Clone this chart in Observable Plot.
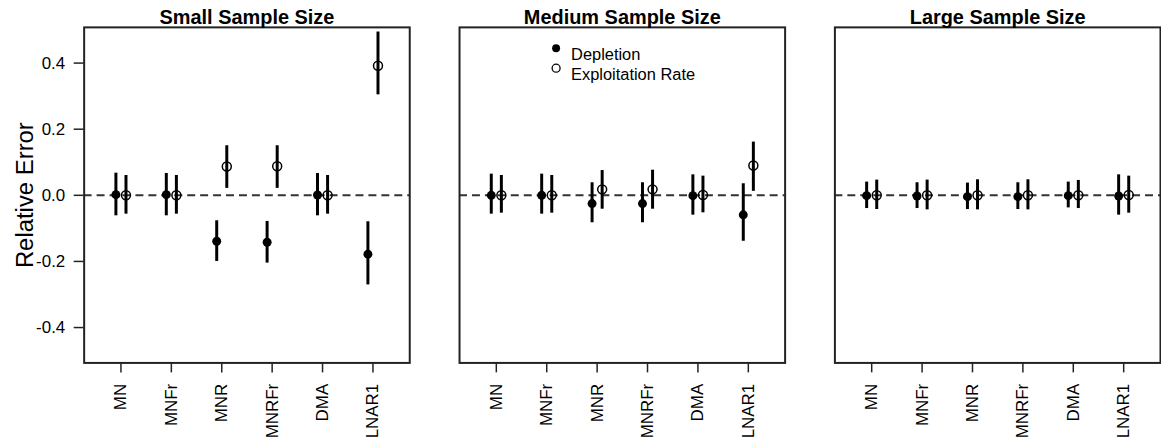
<!DOCTYPE html>
<html>
<head>
<meta charset="utf-8">
<script src="https://cdn.jsdelivr.net/npm/d3@7"></script>
<script src="https://cdn.jsdelivr.net/npm/@observablehq/plot@0.6"></script>
<style>
  html, body { margin: 0; padding: 0; background: #fff; }
  #chart { width: 1161px; height: 441px; overflow: hidden; }
</style>
</head>
<body>
<div id="chart"></div>
<script>
// Estimation methods (x categories) and the three sample-size panels
const methods = ["MN", "MNFr", "MNR", "MNRFr", "DMA", "LNAR1"];
const panels = ["Small Sample Size", "Medium Sample Size", "Large Sample Size"];
const seriesNames = ["Depletion", "Exploitation Rate"];
const yTicks = [-0.4, -0.2, 0.0, 0.2, 0.4];

// Relative error per method: [median, lower, upper]
const smallDepletion = [
  [0.002, -0.062, 0.067], [0.002, -0.062, 0.066], [-0.139, -0.200, -0.077],
  [-0.142, -0.205, -0.079], [0.001, -0.062, 0.066], [-0.178, -0.271, -0.080]
];
const smallExploitation = [
  [0.000, -0.057, 0.060], [0.000, -0.057, 0.060], [0.087, 0.021, 0.150],
  [0.088, 0.021, 0.150], [0.000, -0.057, 0.060], [0.392, 0.304, 0.494]
];
const mediumDepletion = [
  [0.000, -0.057, 0.064], [0.000, -0.057, 0.064], [-0.025, -0.083, 0.038],
  [-0.025, -0.083, 0.038], [-0.001, -0.060, 0.062], [-0.059, -0.139, 0.035]
];
const mediumExploitation = [
  [0.000, -0.054, 0.060], [0.000, -0.054, 0.060], [0.018, -0.042, 0.075],
  [0.018, -0.042, 0.076], [0.001, -0.053, 0.058], [0.090, 0.012, 0.161]
];
const largeDepletion = [
  [-0.001, -0.040, 0.040], [-0.002, -0.040, 0.038], [-0.004, -0.043, 0.037],
  [-0.004, -0.043, 0.038], [-0.001, -0.038, 0.040], [-0.002, -0.060, 0.062]
];
const largeExploitation = [
  [0.000, -0.043, 0.046], [0.000, -0.044, 0.046], [0.000, -0.044, 0.047],
  [0.000, -0.044, 0.047], [0.000, -0.040, 0.045], [0.001, -0.054, 0.058]
];

// Depletion sits just left of each method tick, exploitation rate just right
const seriesOffset = [-0.1, 0.1];

function rows(panel, series, values) {
  return values.map((v, i) => ({
    panel, series, method: methods[i],
    pos: i + 1 + seriesOffset[seriesNames.indexOf(series)],
    mid: v[0], lo: v[1], hi: v[2]
  }));
}

const depletion = [
  ...rows(panels[0], seriesNames[0], smallDepletion),
  ...rows(panels[1], seriesNames[0], mediumDepletion),
  ...rows(panels[2], seriesNames[0], largeDepletion)
];
const exploitation = [
  ...rows(panels[0], seriesNames[1], smallExploitation),
  ...rows(panels[1], seriesNames[1], mediumExploitation),
  ...rows(panels[2], seriesNames[1], largeExploitation)
];
const all = [...depletion, ...exploitation];

const font = "'Liberation Sans', Arial, Helvetica, sans-serif";

const chart = Plot.plot({
  width: 1166,
  height: 441,
  marginLeft: 83,
  marginRight: 0,
  marginTop: 27,
  marginBottom: 77,
  style: { fontFamily: font, fontSize: "17px", color: "#000", background: "#fff" },
  fx: { domain: panels, paddingInner: 0.1325, paddingOuter: 0, axis: null },
  x: { domain: [0.27, 6.73], axis: null },
  y: { domain: [-0.507, 0.508], axis: null },
  marks: [
    Plot.ruleY([0], { stroke: "#333", strokeWidth: 2, strokeDasharray: "8,5" }),
    Plot.ruleX(all, { fx: "panel", x: "pos", y1: "lo", y2: "hi", stroke: "#000", strokeWidth: 3 }),
    Plot.dot(depletion, { fx: "panel", x: "pos", y: "mid", r: 4.5, fill: "#000", stroke: "none" }),
    Plot.dot(exploitation, { fx: "panel", x: "pos", y: "mid", r: 4.5, fill: "none", stroke: "#000", strokeWidth: 1.5 }),
    Plot.frame({ stroke: "#222", strokeWidth: 2 }),
    Plot.axisY({
      ticks: yTicks, tickFormat: d => d.toFixed(1), tickSize: 10, tickPadding: 9,
      label: null, fontSize: 17, stroke: "#222", strokeWidth: 1.5
    }),
    Plot.axisX({
      ticks: [1, 2, 3, 4, 5, 6], tickFormat: i => methods[i - 1], tickRotate: -90,
      tickSize: 10, tickPadding: 11, label: null, fontSize: 17, stroke: "#222", strokeWidth: 1.5
    }),
    // Panel titles
    Plot.text(panels, {
      fx: d => d, text: d => d, frameAnchor: "top", lineAnchor: "bottom", dy: -3,
      fontSize: 20, fontWeight: "bold"
    }),
    // Y axis title on the first panel
    Plot.text(["Relative Error"], {
      fx: () => panels[0], text: d => d, frameAnchor: "left", rotate: -90,
      textAnchor: "middle", lineAnchor: "bottom", dx: -51, fontSize: 24
    }),
    // Legend inside the middle panel
    Plot.dot([seriesNames[0]], { fx: () => panels[1], frameAnchor: "top-left", dx: 97, dy: 21, r: 4, fill: "#000" }),
    Plot.dot([seriesNames[1]], { fx: () => panels[1], frameAnchor: "top-left", dx: 97, dy: 41, r: 4, fill: "none", stroke: "#000", strokeWidth: 1.3 }),
    Plot.text([seriesNames[0]], { fx: () => panels[1], text: d => d, frameAnchor: "top-left", dx: 112, dy: 21, textAnchor: "start", fontSize: 16.5 }),
    Plot.text([seriesNames[1]], { fx: () => panels[1], text: d => d, frameAnchor: "top-left", dx: 112, dy: 41, textAnchor: "start", fontSize: 16.5 })
  ]
});

document.getElementById("chart").appendChild(chart);
</script>
</body>
</html>
